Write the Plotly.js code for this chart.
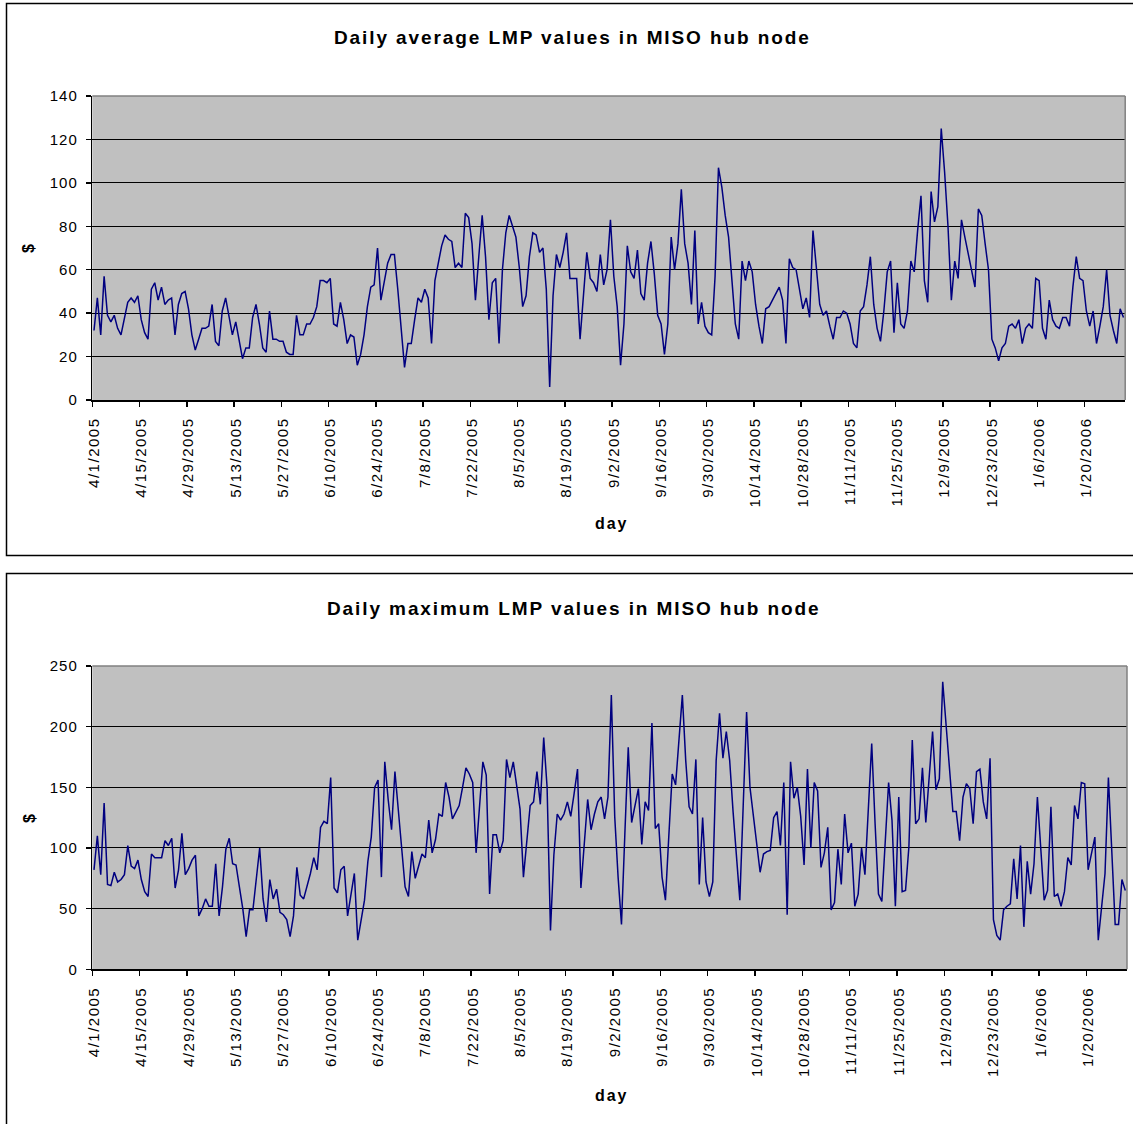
<!DOCTYPE html>
<html>
<head>
<meta charset="utf-8">
<script src="https://cdn.plot.ly/plotly-3.0.1.min.js"></script>
<style>
  body { margin: 0; background: #fff; }
  /* Excel-style wide text */
  .xtick text, .x2tick text { letter-spacing: 1.5px; }
  .ytick text, .y2tick text { letter-spacing: 1px; }
  .annotation-text { letter-spacing: 1.9px; }
</style>
</head>
<body>
<div id="chart" style="width:1133px;height:1124px;"></div>
<script>
// Daily LMP at MISO hub node, 4/1/2005 .. 1/31/2006 (one value per day)
const avgLmp = [
  32, 47, 30, 57, 39, 36, 39, 33, 30, 37, 45, 47, 45, 48, 37, 31, 28, 51, 54, 46,
  52, 44, 46, 47, 30, 44, 49, 50, 42, 30, 23, 28, 33, 33, 34, 44, 27, 25, 41, 47,
  39, 30, 36, 27, 19, 24, 24, 38, 44, 35, 24, 22, 41, 28, 28, 27, 27, 22, 21, 21,
  39, 30, 30, 35, 35, 38, 43, 55, 55, 54, 56, 35, 34, 45, 37, 26, 30, 29, 16, 21,
  30, 43, 52, 53, 70, 46, 54, 63, 67, 67, 51, 32, 15, 26, 26, 37, 47, 45, 51, 47,
  26, 55, 64, 71, 76, 74, 73, 61, 63, 61, 86, 84, 72, 46, 66, 85, 66, 37, 54, 56,
  26, 60, 77, 85, 80, 75, 61, 43, 48, 66, 77, 76, 68, 70, 51, 6, 48, 67, 61, 68,
  77, 56, 56, 56, 28, 48, 68, 56, 54, 50, 67, 53, 60, 83, 57, 43, 16, 35, 71, 59,
  56, 69, 49, 46, 63, 73, 58, 39, 35, 21, 35, 75, 60, 72, 97, 72, 63, 44, 78, 35,
  45, 34, 31, 30, 57, 107, 98, 85, 75, 55, 35, 28, 64, 55, 64, 59, 44, 34, 26, 42,
  43, 46, 49, 52, 46, 26, 65, 61, 60, 51, 42, 47, 38, 78, 60, 44, 39, 41, 34, 28,
  38, 38, 41, 40, 35, 26, 24, 41, 43, 53, 66, 44, 33, 27, 41, 59, 64, 31, 54, 35,
  33, 41, 64, 59, 78, 94, 55, 45, 96, 82, 89, 125, 105, 80, 46, 64, 56, 83, 75, 67,
  60, 52, 88, 85, 72, 60, 28, 24, 18, 24, 26, 34, 35, 33, 37, 26, 33, 35, 33, 56,
  55, 33, 28, 46, 37, 34, 33, 38, 38, 34, 52, 66, 56, 55, 41, 34, 41, 26, 34, 43,
  60, 39, 32, 26, 42, 38
];

const maxLmp = [
  82, 110, 78, 137, 70, 69, 80, 72, 74, 78, 102, 85, 83, 90, 74, 64, 60, 95, 92, 92,
  92, 106, 102, 108, 67, 82, 112, 78, 83, 90, 94, 44, 50, 58, 52, 52, 87, 44, 68, 99,
  108, 87, 86, 68, 50, 27, 49, 49, 76, 100, 58, 39, 74, 58, 66, 47, 45, 41, 27, 44,
  84, 61, 58, 68, 79, 92, 82, 117, 122, 120, 158, 67, 63, 82, 85, 44, 61, 79, 24, 40,
  57, 89, 109, 150, 156, 76, 171, 140, 115, 163, 130, 95, 68, 60, 97, 75, 85, 95, 92, 123,
  96, 107, 128, 126, 154, 142, 124, 130, 135, 150, 166, 161, 154, 96, 135, 171, 160, 62, 111, 111,
  96, 106, 173, 158, 171, 150, 132, 76, 105, 135, 138, 163, 136, 191, 150, 32, 94, 128, 123, 128,
  138, 126, 145, 165, 67, 105, 140, 115, 128, 138, 142, 124, 142, 226, 126, 76, 37, 112, 183, 121,
  135, 149, 103, 138, 131, 203, 116, 120, 76, 57, 110, 161, 152, 190, 226, 172, 134, 128, 173, 70,
  125, 72, 60, 72, 172, 211, 174, 196, 172, 130, 90, 57, 135, 212, 150, 127, 99, 80, 95, 97,
  98, 125, 130, 102, 154, 45, 171, 141, 150, 126, 86, 165, 100, 154, 147, 84, 96, 117, 49, 55,
  99, 70, 128, 96, 104, 52, 62, 100, 78, 135, 186, 120, 62, 56, 105, 154, 123, 52, 142, 64,
  65, 101, 189, 120, 124, 166, 121, 160, 196, 148, 157, 237, 201, 165, 130, 130, 106, 142, 153, 149,
  120, 163, 165, 138, 124, 174, 41, 28, 24, 49, 52, 54, 91, 58, 102, 35, 89, 62, 87, 142,
  100, 57, 65, 134, 60, 62, 52, 64, 92, 86, 135, 124, 154, 153, 82, 95, 109, 24, 50, 79,
  158, 98, 37, 37, 74, 65
];

const tickLabels = [
  '4/1/2005', '4/15/2005', '4/29/2005', '5/13/2005', '5/27/2005', '6/10/2005',
  '6/24/2005', '7/8/2005', '7/22/2005', '8/5/2005', '8/19/2005', '9/2/2005',
  '9/16/2005', '9/30/2005', '10/14/2005', '10/28/2005', '11/11/2005', '11/25/2005',
  '12/9/2005', '12/23/2005', '1/6/2006', '1/20/2006'
];

// one category per day starting 4/1/2005
const days = [];
for (let i = 0; i < avgLmp.length; i++) {
  days.push(new Date(Date.UTC(2005, 3, 1 + i)).toISOString().slice(0, 10));
}
const tickDays = days.filter((d, i) => i % 14 === 0);

const W = 1133, H = 1124;
const px = v => v / W;
const py = v => 1 - v / H;

const font = 'Arial, "Liberation Sans", sans-serif';
const DAY = 86400000;

function xAxis(domain) {
  return {
    type: 'date',
    domain,
    range: ['2005-03-31 12:00', '2006-01-31 12:00'],
    tickmode: 'array',
    tickvals: tickDays,
    ticktext: tickLabels,
    tickangle: -90,
    ticks: '',
    ticklabelstandoff: 10,
    minor: {
      ticks: 'outside',
      ticklen: 5,
      tickwidth: 1.5,
      tickcolor: '#000',
      tick0: '2005-03-31 12:00',
      dtick: 14 * DAY,
      showgrid: false
    },
    showgrid: false,
    zeroline: false,
    showline: true,
    linecolor: '#000',
    linewidth: 1.5,
    tickfont: {family: font, size: 15, color: '#000'},
    fixedrange: true
  };
}

function yAxis(domain, max, step, anchor) {
  return {
    domain,
    anchor,
    range: [0, max],
    tick0: 0,
    dtick: step,
    ticks: 'outside',
    ticklen: 5,
    tickwidth: 1.5,
    tickcolor: '#000',
    ticklabelstandoff: 5,
    showgrid: true,
    gridcolor: '#000',
    gridwidth: 1,
    zeroline: false,
    showline: true,
    linecolor: '#000',
    linewidth: 1.5,
    tickfont: {family: font, size: 15, color: '#000'},
    fixedrange: true
  };
}

const data = [{
  x: days,
  y: avgLmp,
  xaxis: 'x',
  yaxis: 'y',
  type: 'scatter',
  mode: 'lines',
  line: {color: '#000080', width: 1.5},
  hoverinfo: 'skip'
}, {
  x: days,
  y: maxLmp,
  xaxis: 'x2',
  yaxis: 'y2',
  type: 'scatter',
  mode: 'lines',
  line: {color: '#000080', width: 1.5},
  hoverinfo: 'skip'
}];

// grey plot-area border on top and right, black frames round each chart
const shapes = [];
[['x', 'y'], ['x2', 'y2']].forEach(([xa, ya]) => {
  shapes.push({
    type: 'line', xref: xa + ' domain', yref: ya + ' domain',
    x0: 0, x1: 1, y0: 1, y1: 1,
    line: {color: '#808080', width: 1.5}
  }, {
    type: 'line', xref: xa + ' domain', yref: ya + ' domain',
    x0: 1, x1: 1, y0: 0, y1: 1,
    line: {color: '#808080', width: 1.5}
  });
});
shapes.push({
  type: 'rect', xref: 'paper', yref: 'paper', layer: 'below',
  x0: px(6.5), x1: 1.01, y0: py(555.5), y1: py(3.5),
  line: {color: '#000', width: 1.5}
}, {
  type: 'rect', xref: 'paper', yref: 'paper', layer: 'below',
  x0: px(6.5), x1: 1.01, y0: -0.01, y1: py(573.5),
  line: {color: '#000', width: 1.5}
});

const label = (text, x, y, size, angle) => ({
  text, x: px(x), y: py(y), xref: 'paper', yref: 'paper',
  xanchor: 'center', yanchor: 'middle', showarrow: false,
  textangle: angle || 0,
  font: {family: font, size, color: '#000', weight: 'bold'}
});

const annotations = [
  label('Daily average LMP values in MISO hub node', 572, 37, 19),
  label('Daily maximum LMP values in MISO hub node', 574, 608, 19),
  label('day', 611, 523, 16),
  label('day', 611, 1095, 16),
  label('$', 29, 248, 16, -90),
  label('$', 29, 818, 16, -90)
];

const layout = {
  width: W,
  height: H,
  autosize: false,
  margin: {l: 0, r: 0, t: 0, b: 0},
  paper_bgcolor: '#fff',
  plot_bgcolor: '#c0c0c0',
  showlegend: false,
  xaxis: Object.assign(xAxis([px(92.3), px(1125.2)]), {anchor: 'y'}),
  yaxis: yAxis([py(400), py(96)], 140, 20, 'x'),
  xaxis2: Object.assign(xAxis([px(92.3), px(1127)]), {anchor: 'y2'}),
  yaxis2: yAxis([py(969.3), py(666)], 250, 50, 'x2'),
  shapes,
  annotations
};

Plotly.newPlot('chart', data, layout, {staticPlot: true, displayModeBar: false});
</script>
</body>
</html>
